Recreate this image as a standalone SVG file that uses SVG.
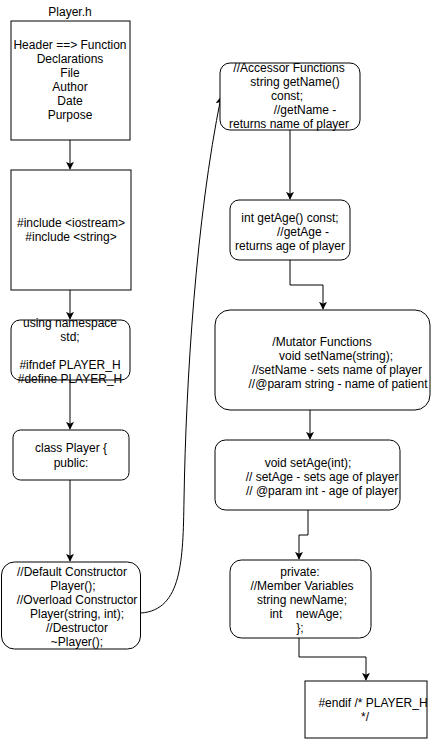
<svg xmlns="http://www.w3.org/2000/svg" width="431" height="741" viewBox="0 0 431 741">
<style>
.n{fill:#fff;stroke:#000;stroke-width:1}
.t{font-family:"Liberation Sans",Arial,sans-serif;font-size:12px;fill:#000;text-anchor:middle}
.e{fill:none;stroke:#000;stroke-width:1}
</style>
<defs>
<marker id="a" viewBox="0 0 10 10" refX="9" refY="5" markerWidth="8" markerHeight="8" markerUnits="userSpaceOnUse" orient="auto">
<path d="M0,0 L10,5 L0,10 L2.5,5 Z" fill="#000"/>
</marker>
</defs>
<rect width="431" height="741" fill="#fff"/>
<g id="connectors">
<path class="e" d="M70,140 V169" marker-end="url(#a)"/>
<path class="e" d="M70,290 V319" marker-end="url(#a)"/>
<path class="e" d="M70,380 V429" marker-end="url(#a)"/>
<path class="e" d="M70,480 V561" marker-end="url(#a)"/>
<path class="e" d="M141,613 C182,610 183,560 184,500 C186,380 196,220 221,97" marker-end="url(#a)"/>
<path class="e" d="M290,130 V199" marker-end="url(#a)"/>
<path class="e" d="M290,260 V285 H323 V309" marker-end="url(#a)"/>
<path class="e" d="M310,410 V439" marker-end="url(#a)"/>
<path class="e" d="M308,510 V535 H299 V559" marker-end="url(#a)"/>
<path class="e" d="M299,638 V657 H366 V680" marker-end="url(#a)"/>
</g>
<g id="title"><text class="t" x="70" y="16">Player.h</text></g>
<g id="header">
<rect class="n" x="11" y="21" width="119" height="119"/>
<text class="t" x="70" y="49">Header ==&gt; Function</text>
<text class="t" x="70" y="63">Declarations</text>
<text class="t" x="70" y="77">File</text>
<text class="t" x="70" y="91">Author</text>
<text class="t" x="70" y="105">Date</text>
<text class="t" x="70" y="119">Purpose</text>
</g>
<g id="includes">
<rect class="n" x="11" y="170" width="120" height="120"/>
<text class="t" x="71" y="227">#include &lt;iostream&gt;</text>
<text class="t" x="71" y="241">#include &lt;string&gt;</text>
</g>
<g id="namespace">
<rect class="n" x="11" y="320" width="119" height="60" rx="9"/>
<text class="t" x="70" y="327">using namespace</text>
<text class="t" x="70" y="341">std;</text>
<text class="t" x="70" y="369">#ifndef PLAYER_H</text>
<text class="t" x="70" y="383">#define PLAYER_H</text>
</g>
<g id="class">
<rect class="n" x="13" y="430" width="116" height="50" rx="7.5"/>
<text class="t" x="71" y="452">class Player {</text>
<text class="t" x="71" y="467">public:</text>
</g>
<g id="constructors">
<rect class="n" x="1.5" y="562" width="139" height="87" rx="13"/>
<text class="t" x="72" y="576">//Default Constructor</text>
<text class="t" x="73" y="590">Player();</text>
<text class="t" x="77" y="604">//Overload Constructor</text>
<text class="t" x="77" y="618">Player(string, int);</text>
<text class="t" x="77" y="632">//Destructor</text>
<text class="t" x="77" y="646">~Player();</text>
</g>
<g id="accessors">
<rect class="n" x="220" y="63" width="140" height="67" rx="10"/>
<text class="t" x="289" y="72">//Accessor Functions</text>
<text class="t" x="295" y="86">string getName()</text>
<text class="t" x="287" y="100">const;</text>
<text class="t" x="305" y="114">//getName -</text>
<text class="t" x="289" y="128">returns name of player</text>
</g>
<g id="getage">
<rect class="n" x="230" y="200" width="120" height="60" rx="9"/>
<text class="t" x="290" y="222">int getAge() const;</text>
<text class="t" x="303" y="236">//getAge -</text>
<text class="t" x="290" y="250">returns age of player</text>
</g>
<g id="mutators">
<rect class="n" x="215" y="310" width="215" height="100" rx="15"/>
<text class="t" x="322" y="346">/Mutator Functions</text>
<text class="t" x="336" y="360">void setName(string);</text>
<text class="t" x="337" y="374">//setName - sets name of player</text>
<text class="t" x="338" y="388">//@param string - name of patient</text>
</g>
<g id="setage">
<rect class="n" x="215" y="440" width="185" height="70" rx="10.5"/>
<text class="t" x="308" y="467">void setAge(int);</text>
<text class="t" x="322" y="481">// setAge - sets age of player</text>
<text class="t" x="322" y="495">// @param int - age of player</text>
</g>
<g id="private">
<rect class="n" x="230" y="560" width="141" height="78" rx="11.5"/>
<text class="t" x="300" y="576">private:</text>
<text class="t" x="302" y="590">//Member Variables</text>
<text class="t" x="302" y="604">string newName;</text>
<text class="t" x="306" y="618" xml:space="preserve">int    newAge;</text>
<text class="t" x="300" y="632">};</text>
</g>
<g id="endif">
<rect class="n" x="305" y="681" width="122" height="57"/>
<text class="t" x="373" y="707">#endif /* PLAYER_H</text>
<text class="t" x="365" y="721">*/</text>
</g>
</svg>
